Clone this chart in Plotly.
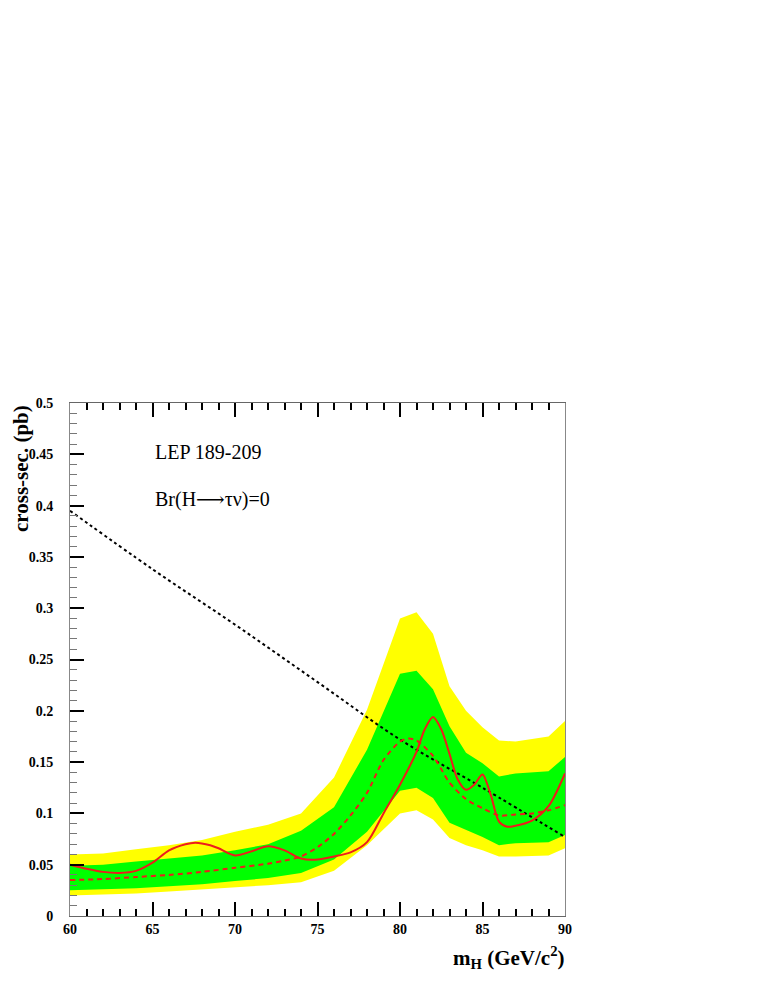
import plotly.graph_objects as go

# ---- data ----
band_mass = [60, 62, 64, 66, 68, 70, 72, 74, 76, 78, 80, 81, 82, 83, 84, 85, 86, 87, 89, 90]
yellow_hi = [0.060, 0.061, 0.065, 0.069, 0.074, 0.082, 0.089, 0.100, 0.135, 0.201, 0.290, 0.296,
             0.275, 0.224, 0.200, 0.184, 0.171, 0.170, 0.175, 0.190]
green_hi = [0.049, 0.050, 0.053, 0.056, 0.059, 0.064, 0.070, 0.083, 0.106, 0.162, 0.236, 0.239,
            0.221, 0.185, 0.159, 0.149, 0.136, 0.139, 0.141, 0.155]
green_lo = [0.025, 0.026, 0.027, 0.029, 0.031, 0.034, 0.037, 0.042, 0.055, 0.082, 0.122, 0.125,
            0.115, 0.091, 0.084, 0.077, 0.069, 0.071, 0.072, 0.079]
yellow_lo = [0.020, 0.021, 0.022, 0.024, 0.026, 0.028, 0.030, 0.033, 0.044, 0.069, 0.100, 0.103,
             0.094, 0.076, 0.069, 0.064, 0.058, 0.058, 0.059, 0.066]

exp_mass = [60, 62, 64, 66, 68, 70, 72, 73, 74, 75, 76, 77, 78, 79, 80, 80.5, 81, 82, 83, 84, 85,
            86, 87, 88, 89, 90]
exp_xsec = [0.035, 0.036, 0.038, 0.040, 0.043, 0.047, 0.051, 0.054, 0.058, 0.067, 0.080, 0.098,
            0.120, 0.152, 0.170, 0.173, 0.171, 0.156, 0.130, 0.114, 0.105, 0.098, 0.099, 0.100,
            0.103, 0.108]

obs_mass = [60, 61, 62, 63, 64, 65, 66, 67, 67.6, 68.5, 69, 70, 71, 72, 73, 74, 75, 76, 77, 78,
            79, 80, 81, 81.5, 82, 82.5, 83, 83.5, 84, 84.5, 85, 85.5, 86, 86.5, 87, 88, 89, 90]
obs_xsec = [0.050, 0.046, 0.043, 0.042, 0.044, 0.052, 0.064, 0.070, 0.0715, 0.069, 0.066, 0.059,
            0.063, 0.068, 0.064, 0.056, 0.055, 0.058, 0.062, 0.072, 0.100, 0.128, 0.160, 0.182,
            0.194, 0.182, 0.158, 0.133, 0.123, 0.128, 0.138, 0.118, 0.092, 0.087, 0.088, 0.093,
            0.107, 0.139]

theory_mass = [60, 65, 70, 75, 80, 85, 90]
theory_xsec = [0.395, 0.338, 0.284, 0.228, 0.172, 0.125, 0.077]

x_ticks = [60, 65, 70, 75, 80, 85, 90]
x_ticktext = ["60", "65", "70", "75", "80", "85", "90"]
y_ticks = [0, 0.05, 0.1, 0.15, 0.2, 0.25, 0.3, 0.35, 0.4, 0.45, 0.5]
y_ticktext = ["0", "0.05", "0.1", "0.15", "0.2", "0.25", "0.3", "0.35", "0.4", "0.45", "0.5"]

SERIF = "Liberation Serif"

fig = go.Figure()
fig.add_trace(go.Scatter(x=band_mass, y=yellow_lo, mode="lines", line=dict(width=0, color="#ffff00"),
                         showlegend=False, hoverinfo="skip"))
fig.add_trace(go.Scatter(x=band_mass, y=yellow_hi, mode="lines", line=dict(width=0, color="#ffff00"),
                         fill="tonexty", fillcolor="#ffff00", showlegend=False, hoverinfo="skip"))
fig.add_trace(go.Scatter(x=band_mass, y=green_lo, mode="lines", line=dict(width=0, color="#00ff00"),
                         showlegend=False, hoverinfo="skip"))
fig.add_trace(go.Scatter(x=band_mass, y=green_hi, mode="lines", line=dict(width=0, color="#00ff00"),
                         fill="tonexty", fillcolor="#00ff00", showlegend=False, hoverinfo="skip"))
fig.add_trace(go.Scatter(x=theory_mass, y=theory_xsec, mode="lines",
                         line=dict(color="black", width=2, dash="dot", shape="spline"), showlegend=False))
fig.add_trace(go.Scatter(x=exp_mass, y=exp_xsec, mode="lines",
                         line=dict(color="#ee1c1c", width=2, dash="5px,4px", shape="spline", smoothing=0.8),
                         showlegend=False))
fig.add_trace(go.Scatter(x=obs_mass, y=obs_xsec, mode="lines",
                         line=dict(color="#ee1c1c", width=2, shape="spline", smoothing=0.8),
                         showlegend=False))

fig.update_layout(
    width=755, height=979,
    margin=dict(l=62, r=198, t=395, b=71),
    paper_bgcolor="white", plot_bgcolor="white",
    font=dict(family=SERIF, color="black"),
    xaxis=dict(range=[60, 90], tickvals=x_ticks, ticktext=x_ticktext, ticks="inside", ticklen=14,
               tickwidth=2, tickcolor="black", showgrid=False, zeroline=False,
               showline=True, linecolor="#666666", linewidth=1, mirror="ticks",
               tickfont=dict(family=SERIF, size=14, color="black", weight="bold"),
               minor=dict(dtick=1, ticks="inside", ticklen=7, tickwidth=2, tickcolor="black",
                          showgrid=False)),
    yaxis=dict(range=[0, 0.5], tickvals=y_ticks, ticktext=y_ticktext, ticks="inside", ticklen=14,
               tickwidth=2, tickcolor="black", showgrid=False, zeroline=False,
               showline=True, linecolor="#888888", linewidth=1, mirror=True,
               ticklabelstandoff=13,
               tickfont=dict(family=SERIF, size=14, color="black", weight="bold"),
               minor=dict(dtick=0.01, ticks="inside", ticklen=7, tickwidth=1, tickcolor="#777777",
                          showgrid=False)),
)

fig.add_annotation(text="m<sub>H</sub> (GeV/c<sup>2</sup>)", xref="paper", yref="paper",
                   x=1.005, y=-0.048, xanchor="right", yanchor="top", showarrow=False,
                   font=dict(family=SERIF, size=21, color="black", weight="bold"))
fig.add_annotation(text="cross-sec. (pb)", xref="paper", yref="paper",
                   x=-0.10, y=1.0, xanchor="center", yanchor="top", textangle=-90, showarrow=False,
                   font=dict(family=SERIF, size=21, color="black", weight="bold"))
fig.add_annotation(text="LEP 189-209", xref="paper", yref="paper",
                   x=(153 - 70) / 495, y=(916 - 452) / 513, xanchor="left", yanchor="middle",
                   showarrow=False, font=dict(family=SERIF, size=20, color="black"))
fig.add_annotation(text="Br(H<span style='font-family:DejaVu Serif'>⟶</span>τν)=0",
                   xref="paper", yref="paper",
                   x=(153 - 70) / 495, y=(916 - 499) / 513, xanchor="left", yanchor="middle",
                   showarrow=False, font=dict(family=SERIF, size=20, color="black"))

fig.write_html("out.html")
